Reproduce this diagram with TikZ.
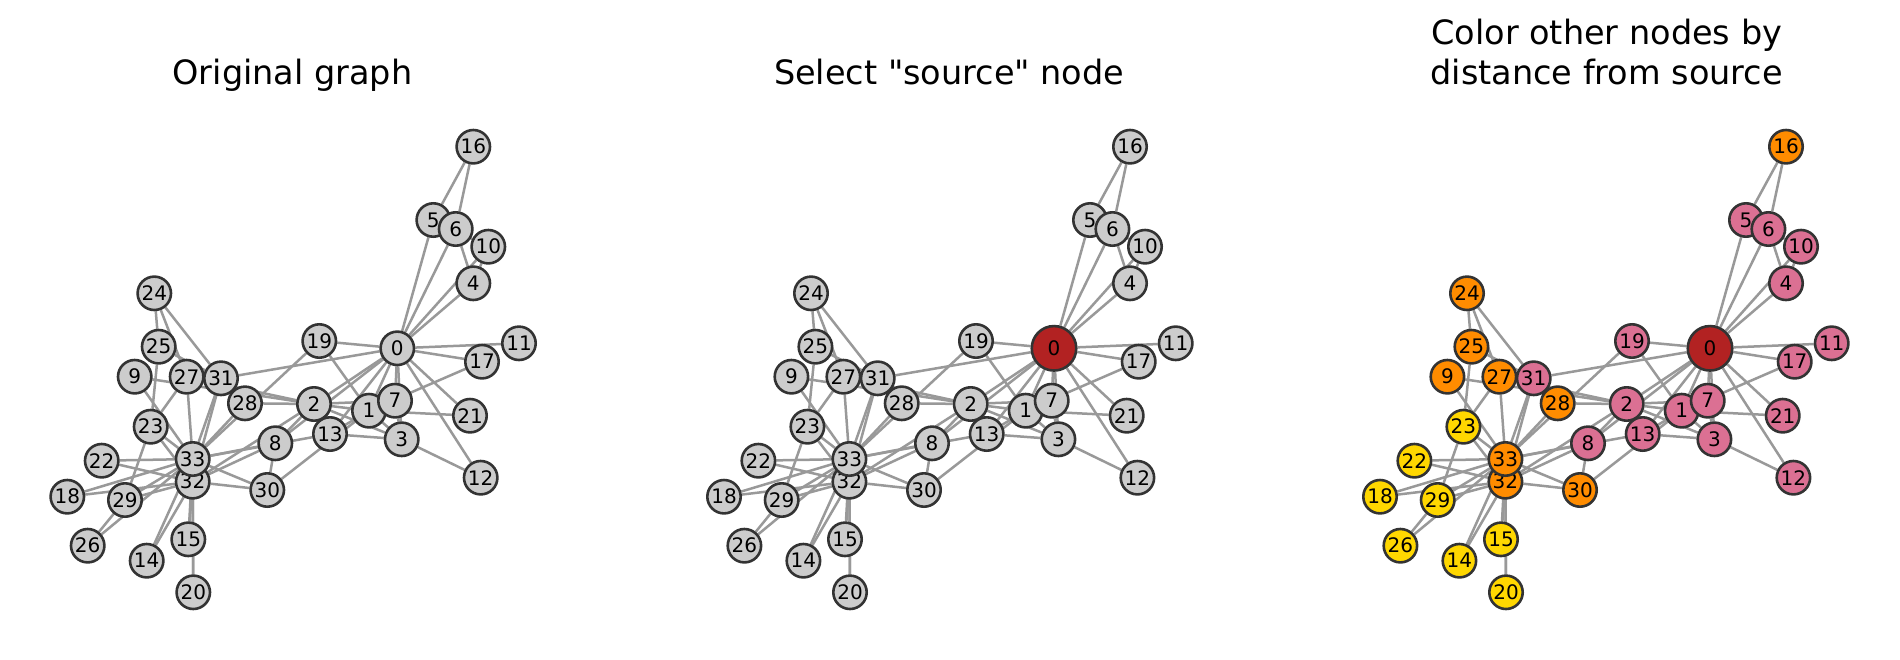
\documentclass[tikz,border=0pt]{standalone}
\usepackage{fontspec}
\setmainfont{DejaVu Sans}
\newfontfamily\plaindejavu{DejaVu Sans}
\usepackage{xcolor}
\definecolor{nodegray}{HTML}{CCCCCC}
\definecolor{rimgray}{HTML}{333333}
\definecolor{linkgray}{HTML}{999999}
\definecolor{srcred}{HTML}{B22222}
\definecolor{pink1}{HTML}{DB7093}
\definecolor{orange1}{HTML}{FF8C00}
\definecolor{gold1}{HTML}{FFD700}
\usetikzlibrary{backgrounds}
\tikzset{
  vtx/.style   = {circle, draw=rimgray, line width=2.6pt, fill=nodegray,
                  minimum size=33.4pt, inner sep=0pt,
                  font=\fontsize{20}{24}\selectfont},
  dist0/.style = {minimum size=44.5pt, fill=srcred},
  dist1/.style = {fill=pink1},
  dist2/.style = {fill=orange1},
  dist3/.style = {fill=gold1},
  link/.style  = {draw=linkgray, line width=2.5pt},
  ttl/.style   = {anchor=base, align=center,
                  font=\plaindejavu\fontsize{33.5}{40.2}\selectfont}
}
% node / x / y / distance from node 0
\newcommand\karatenodes{0/397.3/348.3/0, 1/369/410.7/1, 2/314/404/1,
  3/401.7/439.3/1, 4/473.3/283.3/1, 5/433.3/220/1, 6/455.7/229/1,
  7/395/400.7/1, 8/275.3/443.3/1, 9/134.7/376.7/2, 10/488.3/246.7/1,
  11/519/343.3/1, 12/480.7/477.7/1, 13/330/434/1, 14/146.7/560.7/3,
  15/188.3/539.3/3, 16/473.3/146.7/2, 17/482/361.7/1, 18/67.3/496.7/3,
  19/319.3/341/1, 20/193.3/592.3/3, 21/470/415.7/1, 22/101.7/460.7/3,
  23/150.7/426.7/3, 24/154.3/293.3/2, 25/158.7/346.7/2, 26/87.7/545.7/3,
  27/186.7/376.7/2, 28/245/403.3/2, 29/125/500/3, 30/267.3/490/2,
  31/221/378.3/1, 32/192.7/481.7/2, 33/192.7/459/2}
\newcommand\karateedges{0/1,0/2,0/3,0/4,0/5,0/6,0/7,0/8,0/10,0/11,0/12,
  0/13,0/17,0/19,0/21,0/31,1/2,1/3,1/7,1/13,1/17,1/19,1/21,1/30,
  2/3,2/7,2/8,2/9,2/13,2/27,2/28,2/32,3/7,3/12,3/13,4/6,4/10,
  5/6,5/10,5/16,6/16,8/30,8/32,8/33,9/33,13/33,14/32,14/33,
  15/32,15/33,18/32,18/33,19/33,20/32,20/33,22/32,22/33,
  23/25,23/27,23/29,23/32,23/33,24/25,24/27,24/31,25/31,26/29,26/33,
  27/33,28/31,28/33,29/32,29/33,30/32,30/33,31/32,31/33,32/33}

\begin{document}
\begin{tikzpicture}[x=1pt, y=-1pt]
  \useasboundingbox (0,0) rectangle (1900,659);
  \begin{pgfonlayer}{background}
    \fill[white] (0,0) rectangle (1900,659);
  \end{pgfonlayer}

  % original graph
  \node[ttl] (ttla) at (292.5,84.3) {Original graph};
  \foreach \n/\x/\y/\d in \karatenodes
    \node[vtx] (a\n) at (\x,\y) {\n};
  \begin{pgfonlayer}{background}
    \foreach \u/\v in \karateedges
      \draw[link] (a\u) -- (a\v);
  \end{pgfonlayer}

  % source selected
  \begin{scope}[shift={(656.7,0)}]
    \node[ttl] (ttlb) at (292.5,84.3) {Select "source" node};
    \foreach \n/\x/\y/\d in \karatenodes {
      \ifnum\d=0
        \node[vtx, dist0] (b\n) at (\x,\y) {\n};
      \else
        \node[vtx] (b\n) at (\x,\y) {\n};
      \fi
    }
    \begin{pgfonlayer}{background}
      \foreach \u/\v in \karateedges
        \draw[link] (b\u) -- (b\v);
    \end{pgfonlayer}
  \end{scope}

  % coloured by distance
  \begin{scope}[shift={(1312.7,0)}]
    \node[ttl] (ttlc) at (294,84.3) {Color other nodes by\\distance from source};
    \foreach \n/\x/\y/\d in \karatenodes
      \node[vtx, dist\d] (c\n) at (\x,\y) {\n};
    \begin{pgfonlayer}{background}
      \foreach \u/\v in \karateedges
        \draw[link] (c\u) -- (c\v);
    \end{pgfonlayer}
  \end{scope}
\end{tikzpicture}
\end{document}
